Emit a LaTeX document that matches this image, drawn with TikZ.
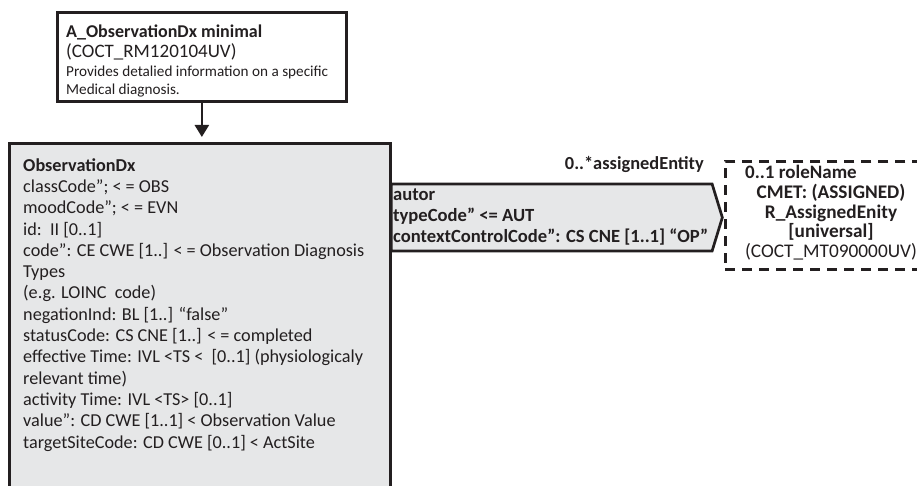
\documentclass[tikz,border=0pt]{standalone}
\usepackage{fontspec}
\setmainfont{Carlito}
\usetikzlibrary{arrows.meta,shapes.symbols}
\definecolor{boxgray}{HTML}{E6E7E8}
\definecolor{ink}{HTML}{231F20}
\begin{document}
\begin{tikzpicture}[x=1pt,y=-1pt,
  frame/.style={draw=ink, line width=2.7pt, inner sep=0pt},
  txt/.style={inner sep=0pt, text=ink, align=left},
  main/.style={font=\fontsize{18.2}{21.3}\selectfont},
  mainb/.style={font=\bfseries\fontsize{18.6}{21}\selectfont},
]
\useasboundingbox (0,0) rectangle (917,486);
\clip (0,0) rectangle (917,486);
% top box
\node[frame, fill=white, anchor=north west, minimum width=289pt, minimum height=89pt] (minimal) at (56,11) {};
\node[txt, anchor=base west, font=\bfseries\fontsize{18}{20}\selectfont] (ttitle) at (66,37.5) {A\_ObservationDx minimal};
\node[txt, anchor=base west, font=\fontsize{19}{20}\selectfont] (tcode) at (66,57.5) {(COCT\_RM120104UV)};
\node[txt, anchor=base west, font=\fontsize{15.2}{17.5}\selectfont] (tdesc) at (66,94.5) {Provides detalied information on a specific\\Medical diagnosis.};
% main box
\node[frame, fill=boxgray, anchor=north west, minimum width=381pt, minimum height=420pt] (dx) at (8,142) {};
\node[txt, anchor=base west, main] (dxtext) at (23,448) {\textbf{ObservationDx}\\
classCode”; < = OBS\\
moodCode”; < = EVN\\
id:\ \ II [0..1]\\
code”: CE CWE [1..] < = Observation Diagnosis\\
Types\\
(e.g. LOINC\ \ code)\\
negationInd: BL [1..] “false”\\
statusCode: CS CNE [1..] < = completed\\
effective Time: IVL <TS <\ \ [0..1] (physiologicaly\\
relevant time)\\
activity Time: IVL <TS> [0..1]\\
value”: CD CWE [1..1] < Observation Value\\
targetSiteCode: CD CWE [0..1] < ActSite};
% arrow
\draw[line width=2.4pt, draw=ink, -{Triangle[length=12pt,width=14pt]}, shorten >=5pt] (minimal.south) -- (minimal.south |- dx.north);
% dashed role box
\node[draw=ink, line width=2.7pt, dash pattern=on 10pt off 7pt, inner sep=0pt, anchor=north west, minimum width=240pt, minimum height=108pt] (role) at (724,160) {};
\node[txt, anchor=base west, font=\bfseries\fontsize{19}{19.5}\selectfont] (rolename) at (745,179) {0..1 roleName};
\node[txt, anchor=base, align=center, font=\fontsize{19.3}{19.5}\selectfont] (cmet) at (831,257) {\textbf{CMET: (ASSIGNED)}\\\textbf{R\_AssignedEnity}\\\textbf{[universal]}\\(COCT\_MT090000UV)};
% association
\node[draw=ink, line width=2.7pt, fill=boxgray, shape=signal, signal to=east, signal pointer angle=146, inner sep=0pt, anchor=west, minimum width=331pt, minimum height=67pt] (autor) at (390,217.5) {};
\node[txt, anchor=base west, mainb] (autortext) at (393,242.5) {autor\\typeCode” <= AUT\\contextControlCode”: CS CNE [1..1] “OP”};
\node[txt, anchor=base east, font=\bfseries\fontsize{18.4}{19}\selectfont] (assigned) at (704,169.5) {0..*assignedEntity};
\end{tikzpicture}
\end{document}
